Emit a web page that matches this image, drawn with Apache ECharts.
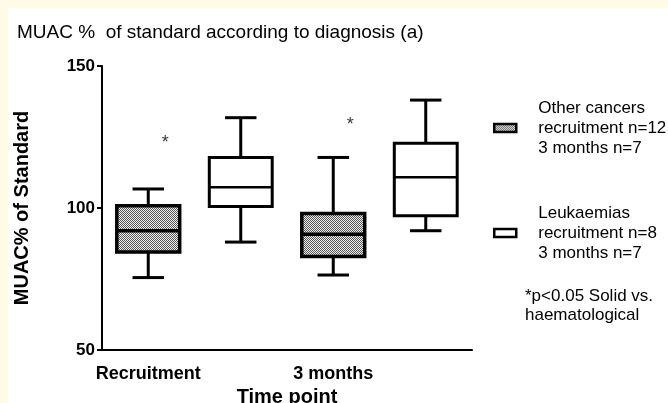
<!DOCTYPE html>
<html>
<head>
<meta charset="utf-8">
<script src="https://cdn.jsdelivr.net/npm/echarts@6/dist/echarts.min.js"></script>
<style>
  html, body { margin: 0; padding: 0; background: #fffbe6; width: 668px; height: 403px; overflow: hidden; }
  #chart { position: absolute; left: 8px; top: 8px; width: 660px; height: 395px; background: #ffffff; }
</style>
</head>
<body>
<div id="chart"></div>
<script>
// Time points and diagnosis groups
const timePoints = ['Recruitment', '3 months'];
const groups = ['Other cancers\nrecruitment n=12\n3 months n=7', 'Leukaemias\nrecruitment n=8\n3 months n=7'];

// Box statistics per time point: [min, Q1, median, Q3, max]
const otherCancers = [
  [75.5, 84.5, 92.0, 100.8, 106.7],
  [76.4, 82.9, 90.8, 98.1, 117.8]
];
const leukaemias = [
  [88.0, 100.5, 107.3, 117.8, 131.8],
  [92.0, 97.3, 110.8, 122.8, 138.0]
];

// Significance markers: [time point index, height]
const sigMarks = [[0, 124.3], [1, 130.6]];

// y axis range and ticks
const yMin = 50, yMax = 150, yStep = 50;

const FONT = 'Arial, "Liberation Sans", sans-serif';

// two slots per time point: one per diagnosis group
const slots = [];
timePoints.forEach(function (t) { slots.push(t + '|0'); slots.push(t + '|1'); });

function boxData(stats, groupIdx) {
  return stats.map(function (s, ti) { return [ti * 2 + groupIdx].concat(s); });
}

// small checker texture for the solid-tumour boxes
const tex = document.createElement('canvas');
tex.width = 2; tex.height = 2;
(function () {
  const g = tex.getContext('2d');
  g.fillStyle = '#f2f2f2'; g.fillRect(0, 0, 2, 2);
  g.fillStyle = '#555555'; g.fillRect(0, 0, 1, 1); g.fillRect(1, 1, 1, 1);
})();
const dotted = { image: tex, repeat: 'repeat' };

function makeRenderer(fill, boxLine, medLine) {
  return function (params, api) {
    const idx = api.value(0);
    const p = function (k) { return api.coord([idx, api.value(k)]); };
    const pMin = p(1), pQ1 = p(2), pMed = p(3), pQ3 = p(4), pMax = p(5);
    const cx = pMin[0];
    const bw = api.size([1, 0])[0] * 0.68;
    const half = bw / 2, cap = bw / 4;
    const ln = { stroke: '#000', lineWidth: 3 };
    return {
      type: 'group',
      children: [
        { type: 'line', shape: { x1: cx, y1: pMax[1], x2: cx, y2: pQ3[1] }, style: ln },
        { type: 'line', shape: { x1: cx - cap, y1: pMax[1], x2: cx + cap, y2: pMax[1] }, style: ln },
        { type: 'line', shape: { x1: cx, y1: pMin[1], x2: cx, y2: pQ1[1] }, style: ln },
        { type: 'line', shape: { x1: cx - cap, y1: pMin[1], x2: cx + cap, y2: pMin[1] }, style: ln },
        { type: 'rect', shape: { x: cx - half, y: pQ3[1], width: bw, height: pQ1[1] - pQ3[1] },
          style: { fill: fill, stroke: '#000', lineWidth: boxLine } },
        { type: 'line', shape: { x1: cx - half, y1: pMed[1], x2: cx + half, y2: pMed[1] },
          style: { stroke: '#000', lineWidth: medLine } }
      ]
    };
  };
}

const chart = echarts.init(document.getElementById('chart'), null, { renderer: 'canvas' });

chart.setOption({
  animation: false,
  backgroundColor: '#ffffff',
  title: [{
    text: 'MUAC %  of standard according to diagnosis (a)',
    left: 9, top: 15, padding: 0,
    textStyle: { fontFamily: FONT, fontSize: 19, fontWeight: 'normal', color: '#000' }
  }, {
    text: '*p<0.05 Solid vs.\nhaematological',
    left: 517, top: 279, padding: 0,
    textStyle: { fontFamily: FONT, fontSize: 17, fontWeight: 'normal', color: '#000', lineHeight: 19 }
  }],
  legend: {
    orient: 'vertical',
    left: 485, top: 90, padding: 0,
    itemWidth: 22, itemHeight: 8, itemGap: 45,
    selectedMode: false,
    textStyle: { fontFamily: FONT, fontSize: 17, color: '#000', lineHeight: 20, padding: [0, 0, 0, 17] },
    data: [
      { name: groups[0], icon: 'rect', itemStyle: { color: dotted, borderColor: '#000', borderWidth: 2.5 } },
      { name: groups[1], icon: 'rect', itemStyle: { color: '#fff', borderColor: '#000', borderWidth: 2.5 } }
    ]
  },
  grid: { left: 94, right: 196, top: 58, bottom: 53, outerBoundsMode: 'none', containLabel: false },
  xAxis: {
    type: 'category',
    data: slots,
    name: 'Time point',
    nameLocation: 'middle',
    nameGap: 36,
    nameTextStyle: { fontFamily: FONT, fontSize: 20, fontWeight: 'bold', color: '#000' },
    axisLine: { lineStyle: { color: '#000', width: 2 } },
    axisTick: { alignWithLabel: true, length: 6, lineStyle: { color: '#000', width: 2 } },
    axisLabel: {
      interval: 0, margin: 15,
      fontFamily: FONT, fontSize: 18, fontWeight: 'bold', color: '#000',
      formatter: function (v) { const parts = v.split('|'); return parts[1] === '0' ? parts[0] : ''; }
    },
    splitLine: { show: false }
  },
  yAxis: {
    type: 'value',
    min: yMin, max: yMax, interval: yStep,
    name: 'MUAC% of Standard',
    nameLocation: 'middle',
    nameGap: 70,
    nameTextStyle: { fontFamily: FONT, fontSize: 20, fontWeight: 'bold', color: '#000' },
    axisLine: { show: true, lineStyle: { color: '#000', width: 2 } },
    axisTick: { show: true, length: 5, lineStyle: { color: '#000', width: 2 } },
    axisLabel: { margin: 7, fontFamily: FONT, fontSize: 17, fontWeight: 'bold', color: '#000' },
    splitLine: { show: false }
  },
  series: [
    {
      name: groups[0],
      type: 'custom',
      itemStyle: { color: dotted, borderColor: '#000' },
      renderItem: makeRenderer(dotted, 3.5, 3.5),
      encode: { x: 0, y: [1, 2, 3, 4, 5] },
      data: boxData(otherCancers, 0)
    },
    {
      name: groups[1],
      type: 'custom',
      itemStyle: { color: '#fff', borderColor: '#000' },
      renderItem: makeRenderer('#fff', 3, 2.5),
      encode: { x: 0, y: [1, 2, 3, 4, 5] },
      data: boxData(leukaemias, 1)
    },
    {
      type: 'scatter',
      symbolSize: 0,
      silent: true,
      data: sigMarks.map(function (m) { return [m[0] * 2, m[1]]; }),
      label: {
        show: true, position: 'inside', offset: [17, 4],
        formatter: '*',
        fontFamily: FONT, fontSize: 18, color: '#000'
      }
    }
  ]
});
</script>
</body>
</html>
